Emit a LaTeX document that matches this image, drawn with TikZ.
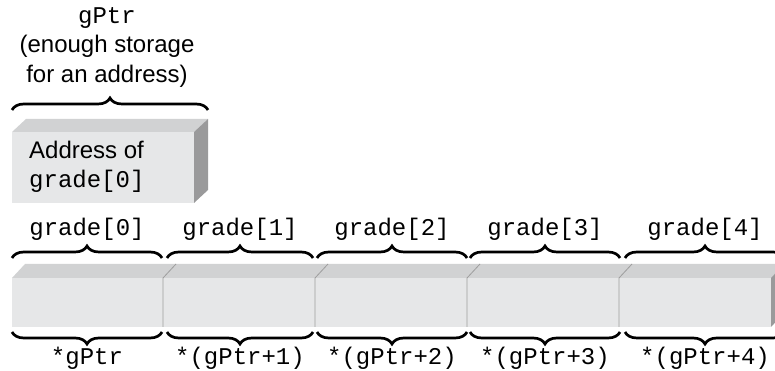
\documentclass[tikz,border=0pt]{standalone}
\usepackage{fontspec}
\setmainfont{Liberation Sans}
\setmonofont{Liberation Mono}
\usetikzlibrary{decorations.pathreplacing}

\definecolor{frontgray}{HTML}{E6E7E8}
\definecolor{topgray}{HTML}{D1D2D3}
\definecolor{sidegray}{HTML}{9A9A9B}
\definecolor{divgray}{HTML}{9E9E9E}

\tikzset{
  brc/.style={decorate, decoration={brace, amplitude=12pt}, line width=2.7pt},
  lbl/.style={font=\fontsize{24}{29.5}\selectfont, inner sep=0pt},
  divider/.style={draw=divgray, line width=0.8pt},
}

\begin{document}
\begin{tikzpicture}[x=1pt, y=1pt]
  \useasboundingbox (0,0) rectangle (775,371);

  % Coordinates
  \coordinate (P1) at (12,168);
  \coordinate (P2) at (194,239);
  \coordinate (A1) at (12,44);
  \coordinate (A2) at (771,93);

  % Pointer box
  \fill[frontgray] (P1) rectangle (P2);
  \fill[topgray] (12,239) -- (26,252) -- (208,252) -- (194,239) -- cycle;
  \fill[sidegray] (194,239) -- (208,252) -- (208,181) -- (194,168) -- cycle;
  \node[lbl, anchor=west, align=left] (addr) at (29,204)
    {Address of\\\texttt{grade[0]}};

  \draw[brc] (12,261) -- (208,261);
  \node[lbl, align=center, anchor=north] (gptr) at (107,364)
    {\texttt{gPtr}\\(enough storage\\for an address)};

  % Array
  \fill[frontgray] (A1) rectangle (A2);
  \fill[topgray] (12,93) -- (25,107) -- (784,107) -- (771,93) -- cycle;
  \fill[sidegray] (771,93) -- (784,107) -- (784,58) -- (771,44) -- cycle;
  \foreach \x in {163,315,467,619}
    \draw[divider] (\x,44) -- (\x,93) -- (\x+13,107);

  % Braces and labels
  \foreach \i/\a/\b/\lab in {0/12/162/*gPtr, 1/167/313/*(gPtr+1),
      2/317/467/*(gPtr+2), 3/470/620/*(gPtr+3), 4/625/785/*(gPtr+4)} {
    \draw[brc] (\a,113) -- (\b,113);
    \draw[brc] (\b,39) -- (\a,39);
    \node[lbl] (g\i) at ({(\a+\b)/2},142) {\texttt{grade[\i]}};
    \node[lbl] (p\i) at ({(\a+\b)/2},13) {\texttt{\lab}};
  }
\end{tikzpicture}
\end{document}
